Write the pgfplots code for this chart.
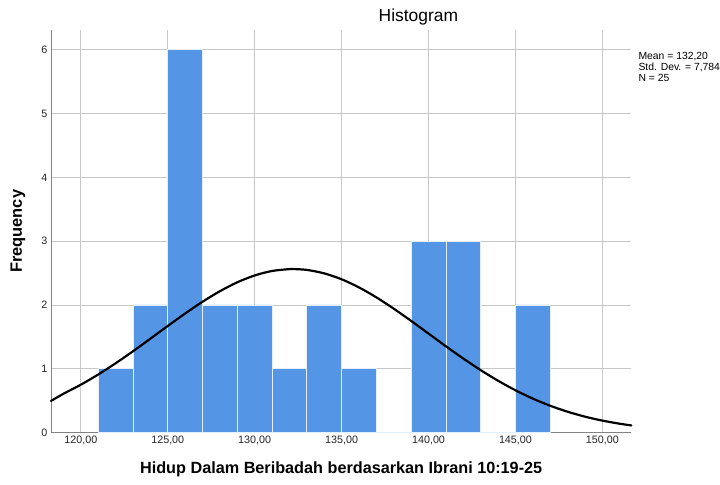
\documentclass[border=0pt]{standalone}
\usepackage{pgfplots}
\pgfplotsset{compat=1.18}
\usepackage{fontspec}
\setmainfont{Liberation Sans}
\definecolor{barblue}{RGB}{85,149,229}
\definecolor{gridgray}{RGB}{200,200,200}
\definecolor{axisgray}{RGB}{130,130,130}
\begin{document}
\begin{tikzpicture}
\begin{axis}[
  scale only axis,
  width=581bp, height=403bp,
  at={(0,0)}, anchor=south west,
  xmin=118.28, xmax=151.67,
  ymin=0, ymax=6.31,
  axis x line=bottom, axis y line=left,
  axis line style={axisgray, line width=0.8pt, -},
  xtick={120,125,130,135,140,145,150},
  xticklabels={120{,}00,125{,}00,130{,}00,135{,}00,140{,}00,145{,}00,150{,}00},
  ytick={0,1,2,3,4,5,6},
  major tick length=0pt,
  tick label style={font=\fontsize{10.8}{12}\selectfont, text=black!85},
  /pgf/number format/assume math mode=true,
  xmajorgrids, ymajorgrids,
  grid style={gridgray, line width=0.8pt},
  clip=false,
]
\addplot[ybar interval, fill=barblue, draw=white!85!barblue, line width=0.8pt] coordinates {
(121,1) (123,2) (125,6) (127,2) (129,2) (131,1) (133,2) (135,1) (137,0) (139,3) (141,3) (143,0) (145,2) (147,0)
};
\addplot[black, line width=2.2pt, smooth, line cap=round] coordinates {
(118.28,0.495) (119,0.6085) (120,0.7505) (121,0.9104) (122,1.0862) (123,1.2746) (124,1.4717) (125,1.6711) (126,1.8664) (127,2.0504) (128,2.2157) (129,2.3554) (130,2.4626) (131,2.5328) (132,2.5622) (132.2,2.563) (133,2.5495) (134,2.4953) (135,2.4026) (136,2.2752) (137,2.1191) (138,1.9418) (139,1.7500) (140,1.5514) (141,1.3528) (142,1.1603) (143,0.9788) (144,0.8125) (145,0.6631) (146,0.5323) (147,0.4206) (148,0.3268) (149,0.2497) (150,0.1876) (151,0.1387) (151.67,0.112)
};
\node[anchor=north west, align=left, font=\fontsize{10.4}{11.2}\selectfont, inner sep=0pt] at (rel axis cs:1,1) [xshift=7bp, yshift=-22bp] {Mean = 132,20\\Std. Dev. = 7,784\\N = 25};
\node[font=\fontsize{17.5}{19}\selectfont] at (rel axis cs:0.633,1) [yshift=13bp] {Histogram};
\node[font=\fontsize{16.3}{18}\selectfont\bfseries] at (rel axis cs:0.5,0) [yshift=-37bp] {Hidup Dalam Beribadah berdasarkan Ibrani 10:19-25};
\node[font=\fontsize{16.5}{18}\selectfont\bfseries, rotate=90] at (rel axis cs:-0.0568,0.5) {Frequency};
\end{axis}
\path[use as bounding box] (-51bp,-52bp) rectangle (669bp,433bp);
\end{tikzpicture}
\end{document}
